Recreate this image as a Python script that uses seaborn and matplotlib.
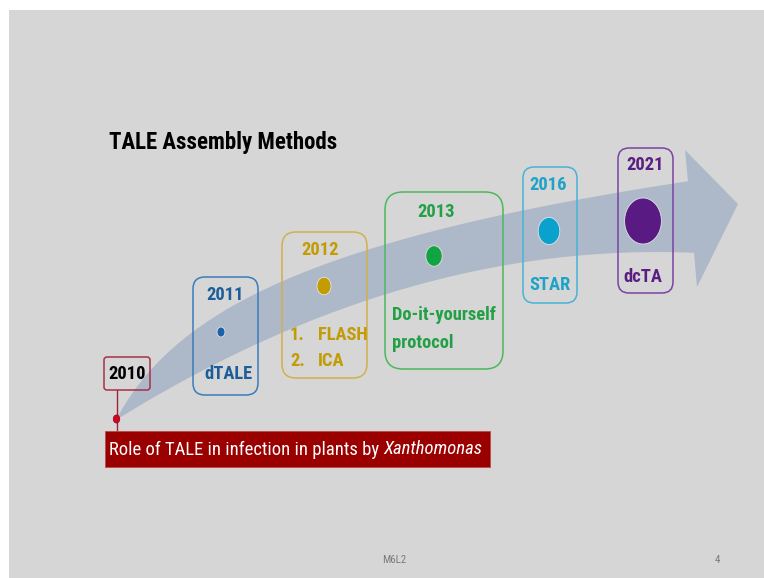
import numpy as np
import pandas as pd
import matplotlib
matplotlib.use("Agg")
import matplotlib.pyplot as plt
from matplotlib import font_manager as fm
from matplotlib.patches import Rectangle, FancyBboxPatch, Polygon
from matplotlib.path import Path
import seaborn as sns

# ---------------- data (text content) ----------------
title = "TALE Assembly Methods"
years = ["2010", "2011", "2012", "2013", "2016", "2021"]
methods = ["dTALE", "FLASH", "ICA", "Do-it-yourself", "protocol", "STAR", "dcTA"]
list_numbers = ["1.", "2."]
banner_text = "Role of TALE in infection in plants by"
banner_italic = "Xanthomonas"
footer_left = "M6L2"
footer_right = "4"

# ---------------- styles ----------------
year_colors = ["#000000", "#1d5e9a", "#c29b05", "#22a046", "#1ea2c8", "#5a1e82"]
box_colors = ["#a83048", "#3a7bbb", "#d3b04c", "#4cb85c", "#46b3d6", "#7b42a3"]
dot_colors = ["#d8001c", "#1c62a8", "#c49c00", "#12a442", "#0aa2cc", "#5a1a84"]
SLIDE_BG = "#d6d6d6"
BAND = "#adb8c9"
BANNER = "#9a0000"

# ---------------- fonts ----------------
sns.set_theme(style="white")
avail = {f.name for f in fm.fontManager.ttflist}
FONT, K = "Lato", 0.9
for name, k in [("Liberation Sans Narrow", 1.0), ("Roboto Condensed", 0.98),
                ("Open Sans Condensed", 0.98), ("Noto Sans Condensed", 0.95)]:
    if name in avail:
        FONT, K = name, k
        break
plt.rcParams["font.family"] = [FONT, "DejaVu Sans"]

W, H = 764, 578
fig = plt.figure(figsize=(W / 100, H / 100), dpi=100)
fig.patch.set_facecolor("white")
ax = fig.add_axes([0, 0, 1, 1])
ax.set_xlim(0, W)
ax.set_ylim(H, 0)
ax.axis("off")

# slide background
ax.add_patch(Rectangle((9, 10), W - 9, H - 10, facecolor=SLIDE_BG, edgecolor="none", zorder=0))

# ---------------- curved arrow band ----------------
x0, y0 = 116, 420
xu = np.linspace(x0, 688, 200)
yu = y0 - 94.7 * np.log1p((xu - x0) / 50.0)
xl = np.linspace(694, x0, 200)
ul = xl - x0
yl = y0 - (0.621 * ul - 0.000574 * ul ** 2)
head = np.array([[685, 150], [738, 204], [697, 287]])
verts = np.vstack([np.column_stack([xu, yu]), head, np.column_stack([xl, yl])])
ax.add_patch(Polygon(verts, closed=True, facecolor=BAND, edgecolor="none", zorder=1))

# ---------------- boxes ----------------
boxes = [(104, 357, 150, 390, 3), (193, 277, 258, 395, 12), (282, 232, 367, 378, 14),
         (385, 192, 503, 369, 18), (523, 167, 577, 303, 11), (618, 148, 673, 293, 11)]
for (bx0, by0, bx1, by1, r), c in zip(boxes, box_colors):
    ax.add_patch(FancyBboxPatch((bx0 + r, by0 + r), (bx1 - bx0) - 2 * r, (by1 - by0) - 2 * r,
                                boxstyle=f"round,pad={r}", facecolor="none",
                                edgecolor=c, linewidth=1.1, zorder=3))

# connector line from 2010 box to banner
ax.plot([116.5, 116.5], [390, 431], color="#a02038", lw=1.0, zorder=2)

# ---------------- banner ----------------
ax.add_patch(Rectangle((105, 431), 385, 36, facecolor=BANNER, edgecolor="#b84a4a",
                       linewidth=0.6, zorder=3))
t1 = ax.text(109, 449.5, banner_text, color="white", fontsize=13.7 * K,
             ha="left", va="center", zorder=4)
fig.canvas.draw()
bb = t1.get_window_extent(fig.canvas.get_renderer())
xr = ax.transData.inverted().transform((bb.x1, bb.y0))[0]
ax.text(xr + 4, 449.5, banner_italic, color="white", fontsize=13.7 * K,
        style="italic", ha="left", va="center", zorder=4)

# ---------------- dots (seaborn scatter with ellipse marker) ----------------
dot_x = [116.5, 221, 324, 434, 549, 643]
dot_y = [419, 332, 286, 256, 231, 221]
dot_h = [8, 10, 17.5, 20.5, 27, 46]
th = np.linspace(0, 2 * np.pi, 80)
ell = Path(np.column_stack([0.8 * np.cos(th), np.sin(th)]), closed=False)
dots = pd.DataFrame({"x": dot_x, "y": dot_y, "year": years})
pts = sns.scatterplot(data=dots, x="x", y="y", hue="year", palette=dot_colors,
                      marker=ell, s=[(h * 0.72) ** 2 for h in dot_h],
                      edgecolor="#e2e2e2", linewidth=0.6, legend=False, ax=ax, zorder=5)
coll = ax.collections[-1]
coll.set_edgecolors(["#8a1020", "#e2e2e2", "#e2e2e2", "#e2e2e2", "#e2e2e2", "#e2e2e2"])
ax.set_xlim(0, W)
ax.set_ylim(H, 0)
ax.set_xlabel("")
ax.set_ylabel("")

# ---------------- year labels ----------------
FS = 13.6 * K
year_pos = [(127, 374), (225, 295), (320, 250), (436, 212), (548, 185), (645, 165)]
for (tx, ty), yr, c in zip(year_pos, years, year_colors):
    ax.text(tx, ty, yr, color=c, fontsize=FS, fontweight="bold",
            ha="center", va="center", zorder=6)

# ---------------- method labels ----------------
mc = year_colors
ax.text(228, 374, methods[0], color=mc[1], fontsize=FS, fontweight="bold",
        ha="center", va="center", zorder=6)
for i, ty in enumerate([335, 361]):
    ax.text(290, ty, list_numbers[i], color=mc[2], fontsize=FS, fontweight="bold",
            ha="left", va="center", zorder=6)
    ax.text(318, ty, methods[1 + i], color=mc[2], fontsize=FS, fontweight="bold",
            ha="left", va="center", zorder=6)
for i, ty in enumerate([315, 343]):
    ax.text(392, ty, methods[3 + i], color=mc[3], fontsize=FS, fontweight="bold",
            ha="left", va="center", zorder=6)
ax.text(550, 285, methods[5], color=mc[4], fontsize=FS, fontweight="bold",
        ha="center", va="center", zorder=6)
ax.text(643, 277, methods[6], color=mc[5], fontsize=FS, fontweight="bold",
        ha="center", va="center", zorder=6)

# ---------------- title & footer ----------------
ax.text(109, 142, title, color="black", fontsize=16.8 * K, fontweight="bold",
        ha="left", va="center", zorder=6)
ax.text(394, 560, footer_left, color="#7a7a7a", fontsize=8.0 * K, ha="center", va="center")
ax.text(717.5, 560, footer_right, color="#7a7a7a", fontsize=8.0 * K, ha="center", va="center")

fig.savefig("out.png", dpi=100, facecolor="white")
